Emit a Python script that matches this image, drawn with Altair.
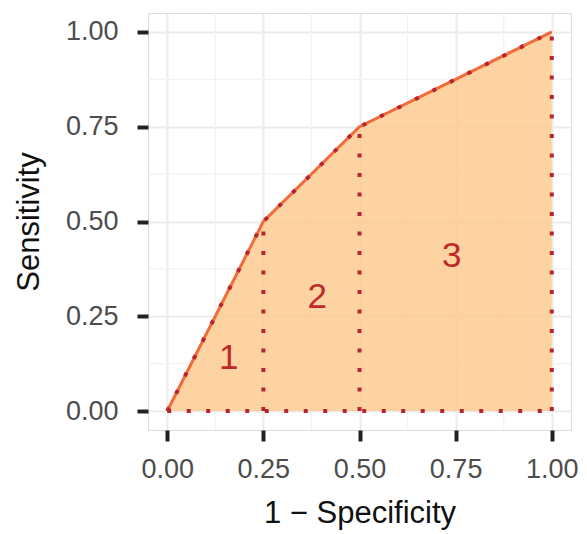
import altair as alt
import pandas as pd

# ROC curve points
fpr = [0.0, 0.25, 0.5, 1.0]
tpr = [0.0, 0.5, 0.75, 1.0]

# vertical segment positions
vx = [0.25, 0.5, 1.0]
vy = [0.5, 0.75, 1.0]

# region labels
lab_text = ["1", "2", "3"]
lab_x = [0.16, 0.39, 0.74]
lab_y = [0.14, 0.30, 0.41]

ticks = [0, 0.25, 0.5, 0.75, 1.0]
minor = [0.125, 0.375, 0.625, 0.875]

curve = pd.DataFrame({"x": fpr, "y": tpr})
vert = pd.DataFrame({"x": vx, "y0": [0] * len(vx), "y1": vy})
base_line = pd.DataFrame({"x": [0.0], "x2": [1.0], "y": [0.0]})
labels = pd.DataFrame({"x": lab_x, "y": lab_y, "t": lab_text})
minor_df = pd.DataFrame({"v": minor})

dom = [-0.05, 1.05]
xs = alt.Scale(domain=dom, nice=False, zero=False)
ys = alt.Scale(domain=dom, nice=False, zero=False)

common = dict(values=ticks, format=".2f", grid=True, gridColor="#ebebeb",
              gridWidth=2, tickColor="#222222", tickSize=11, tickWidth=4,
              labelColor="#4d4d4d", labelFontSize=27, titleFontSize=31,
              titleFontWeight="normal", titleColor="#111111", domain=False,
              labelFont="Liberation Sans", titleFont="Liberation Sans")

xaxis = alt.Axis(title="1 − Specificity", labelPadding=15, titlePadding=16, **common)
yaxis = alt.Axis(title="Sensitivity", labelPadding=19, titlePadding=20, **common)

minor_x = alt.Chart(minor_df).mark_rule(color="#f2f2f2", strokeWidth=1.2).encode(
    x=alt.X("v:Q", scale=xs, axis=xaxis))
minor_y = alt.Chart(minor_df).mark_rule(color="#f2f2f2", strokeWidth=1.2).encode(
    y=alt.Y("v:Q", scale=ys, axis=yaxis))

area = alt.Chart(curve).mark_area(color="#FCCB8C", opacity=0.82).encode(
    x=alt.X("x:Q", scale=xs, axis=xaxis),
    y=alt.Y("y:Q", scale=ys, axis=yaxis),
)

line = alt.Chart(curve).mark_line(color="#F26B3A", strokeWidth=3).encode(
    x=alt.X("x:Q", scale=xs, axis=xaxis), y=alt.Y("y:Q", scale=ys, axis=yaxis))

dash = [4, 15.5]
dcol = "#B72430"
dw = 4
dots_curve = alt.Chart(curve).mark_line(color=dcol, strokeWidth=dw,
                                        strokeDash=dash).encode(
    x=alt.X("x:Q", scale=xs, axis=xaxis), y=alt.Y("y:Q", scale=ys, axis=yaxis))

dots_vert = alt.Chart(vert).mark_rule(color=dcol, strokeWidth=dw,
                                      strokeDash=dash).encode(
    x=alt.X("x:Q", scale=xs, axis=xaxis), y=alt.Y("y0:Q", scale=ys, axis=yaxis), y2="y1:Q")

dots_base = alt.Chart(base_line).mark_rule(color=dcol, strokeWidth=dw,
                                           strokeDash=dash).encode(
    x=alt.X("x:Q", scale=xs, axis=xaxis), x2="x2:Q", y=alt.Y("y:Q", scale=ys, axis=yaxis))

text = alt.Chart(labels).mark_text(color="#C0282A", fontSize=35,
                                   font="Liberation Sans").encode(
    x=alt.X("x:Q", scale=xs, axis=xaxis), y=alt.Y("y:Q", scale=ys, axis=yaxis), text="t:N")

chart = alt.layer(minor_x, minor_y, area, line, dots_curve, dots_vert, dots_base, text).properties(
    width=423, height=417,
    autosize=alt.AutoSizeParams(type="none"),
    padding={"left": 140, "top": 5, "right": 8, "bottom": 100},
).configure_view(stroke="#999999", strokeWidth=2.5).configure(background="white")

chart.save("out.html", embed_options={"renderer": "svg", "actions": False})
